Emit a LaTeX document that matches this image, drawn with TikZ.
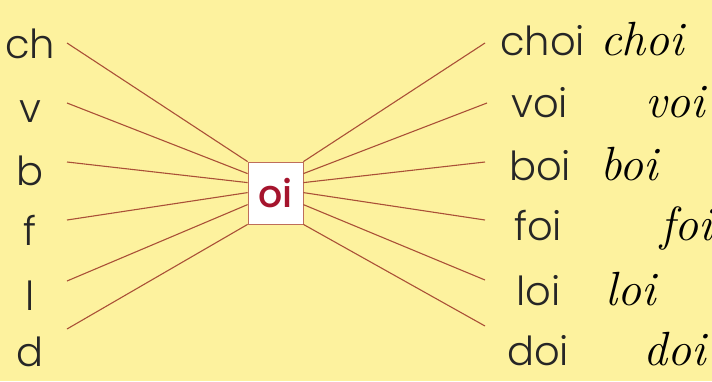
\documentclass[tikz,border=0pt]{standalone}
\usepackage{fontspec}
\setsansfont{Poppins}[UprightFont=* Light, BoldFont=* Medium]
\definecolor{bgyellow}{RGB}{253,242,158}
\definecolor{linebrown}{RGB}{170,80,55}
\definecolor{oired}{RGB}{165,20,45}
\definecolor{boxedge}{RGB}{190,110,90}
\tikzset{
  syl/.style={font=\sffamily\fontsize{40}{40}\selectfont, anchor=base, inner sep=0pt, text depth=0pt, text=black!85},
  curs/.style={font=\rmfamily\itshape\fontsize{48}{48}\selectfont, anchor=base west, inner sep=0pt, text=black},
  ray/.style={draw=linebrown, line width=1.1pt},
  oibox/.style={draw=boxedge, fill=white, line width=0.8pt, minimum width=55pt, minimum height=62pt, inner sep=0pt,
     font=\sffamily\bfseries\fontsize{38}{38}\selectfont, text=oired}
}
\begin{document}
\begin{tikzpicture}[x=1pt,y=-1pt]
\fill[bgyellow] (0,0) rectangle (712,381);
\useasboundingbox (0,0) rectangle (712,381);
% left syllables
\node[syl] (ch) at (30,58) {ch};
\node[syl] (v) at (30,122) {v};
\node[syl] (b) at (30,185) {b};
\node[syl] (f) at (30,245) {f};
\node[syl] (l) at (30,310) {l};
\node[syl] (d) at (30,366) {d};
% box
\node[oibox] (oi) at (275.5,193) {\raisebox{1pt}{oi}};
% right words
\node[syl, anchor=base west] (choi) at (500,55) {choi};
\node[syl, anchor=base west] (voi) at (511,117) {voi};
\node[syl, anchor=base west] (boi) at (509,180) {boi};
\node[syl, anchor=base west] (foi) at (514,240) {foi};
\node[syl, anchor=base west] (loi) at (516,305) {loi};
\node[syl, anchor=base west] (doi) at (507,365) {doi};
% cursive
\node[curs] (cchoi) at (600,55) {choi};
\node[curs] (cvoi) at (645,117) {voi};
\node[curs] (cboi) at (600,180) {boi};
\node[curs] (cfoi) at (660,240) {foi};
\node[curs] (cloi) at (605,305) {loi};
\node[curs] (cdoi) at (643,365) {doi};
% ray ends
\coordinate (Lch) at (67,43);
\coordinate (Lv) at (67,103);
\coordinate (Lb) at (67,162);
\coordinate (Lf) at (67,220);
\coordinate (Ll) at (67,281);
\coordinate (Ld) at (67,329);
\coordinate (Rch) at (485,43);
\coordinate (Rv) at (487,103);
\coordinate (Rb) at (485,162);
\coordinate (Rf) at (485,220);
\coordinate (Rl) at (485,280);
\coordinate (Rd) at (485,326);
\coordinate (bw1) at (oi.north west);
\coordinate (bw2) at ([yshift=-12pt]oi.north west);
\coordinate (bw3) at ([yshift=-21pt]oi.north west);
\coordinate (bw4) at ([yshift=-31pt]oi.north west);
\coordinate (bw5) at ([yshift=-43pt]oi.north west);
\coordinate (bw6) at (oi.south west);
\coordinate (be1) at (oi.north east);
\coordinate (be2) at ([yshift=-12pt]oi.north east);
\coordinate (be3) at ([yshift=-21pt]oi.north east);
\coordinate (be4) at ([yshift=-31pt]oi.north east);
\coordinate (be5) at ([yshift=-43pt]oi.north east);
\coordinate (be6) at (oi.south east);
\draw[ray] (Lch) -- (bw1);
\draw[ray] (Lv) -- (bw2);
\draw[ray] (Lb) -- (bw3);
\draw[ray] (Lf) -- (bw4);
\draw[ray] (Ll) -- (bw5);
\draw[ray] (Ld) -- (bw6);
\draw[ray] (be1) -- (Rch);
\draw[ray] (be2) -- (Rv);
\draw[ray] (be3) -- (Rb);
\draw[ray] (be4) -- (Rf);
\draw[ray] (be5) -- (Rl);
\draw[ray] (be6) -- (Rd);
\end{tikzpicture}
\end{document}
